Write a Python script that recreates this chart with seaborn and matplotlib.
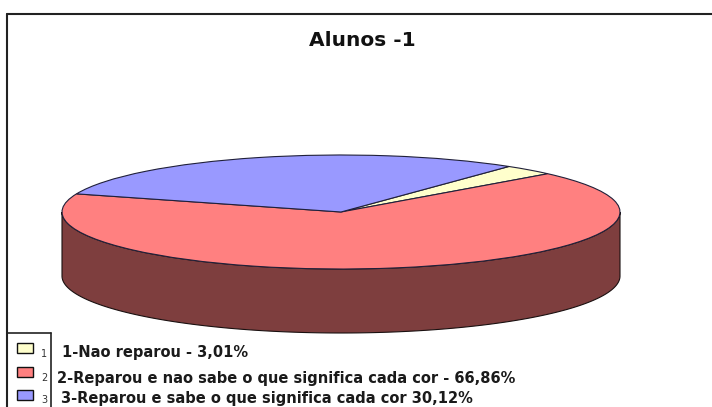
import numpy as np
import matplotlib
matplotlib.use("Agg")
import matplotlib.pyplot as plt
import seaborn as sns
from matplotlib.patches import Polygon, Rectangle
from matplotlib.lines import Line2D

# ---- data ----
title = "Alunos -1"
codes = ["1", "2", "3"]
categories = [
    "1-Nao reparou - 3,01%",
    "2-Reparou e nao sabe o que significa cada cor - 66,86%",
    "3-Reparou e sabe o que significa cada cor 30,12%",
]
values = [3.01, 66.86, 30.12]
top_colors = ["#FFFFCC", "#FF8080", "#9999FF"]
side_colors = ["#80806A", "#7E3E3E", "#4D4D80"]

sns.set_theme(style="white")
plt.rcParams["font.family"] = ["DejaVu Sans"]

W, H = 712, 407
fig = plt.figure(figsize=(W / 100, H / 100), dpi=100)
fig.patch.set_facecolor("white")


def fx(x):
    return x / W


def fy(y):
    return 1 - y / H


# ---- pie geometry (pixels) ----
cx, cy, a, b, depth = 341, 212, 279, 57, 64
ax = fig.add_axes([fx(cx - a), (H - cy - b - depth) / H, 2 * a / W, (2 * b + depth) / H])
d = depth / b

wedges, _ = ax.pie(values, colors=top_colors, startangle=53, counterclock=False,
                   wedgeprops=dict(edgecolor="#20203a", linewidth=0.8))
for w in wedges:
    w.set_zorder(3)
    w.set_clip_on(False)

# side of the 3D pie, computed from the wedge angles
for w, sc in zip(wedges, side_colors):
    t1, t2 = w.theta1, w.theta2
    for k in (-2, -1, 0, 1):
        lo = max(t1, 180 + 360 * k)
        hi = min(t2, 360 + 360 * k)
        if hi > lo:
            t = np.radians(np.linspace(lo, hi, 200))
            top = np.column_stack([np.cos(t), np.sin(t)])
            bot = np.column_stack([np.cos(t[::-1]), np.sin(t[::-1]) - d])
            poly = Polygon(np.vstack([top, bot]), closed=True, facecolor=sc,
                           edgecolor="#1a1010", linewidth=0.8, zorder=2, clip_on=False)
            ax.add_patch(poly)

ax.set_aspect("auto")
ax.set_xlim(-1, 1)
ax.set_ylim(-1 - d, 1)
ax.axis("off")

# ---- title ----
fig.text(fx(362), fy(41), title, ha="center", va="center", fontsize=14.5,
         fontweight="bold", color="#111111")

# ---- outer frame ----
fig.add_artist(Line2D([fx(7), fx(712)], [fy(14), fy(14)], color="#222222", lw=1.5))
fig.add_artist(Line2D([fx(7), fx(7)], [fy(14), fy(407)], color="#222222", lw=1.5))

# ---- legend box ----
fig.add_artist(Line2D([fx(7), fx(50.5)], [fy(333), fy(333)], color="#222222", lw=1.2))
fig.add_artist(Line2D([fx(50.5), fx(50.5)], [fy(333), fy(407)], color="#222222", lw=1.2))

row_y = [348, 372, 395]
text_x = [62, 57, 61]
text_y = [352, 378, 398]
code_y = [354, 378, 400]
for i in range(3):
    fig.add_artist(Rectangle((fx(17), fy(row_y[i] + 5)), 16 / W, 10 / H,
                             facecolor=top_colors[i], edgecolor="#111111", lw=1.0))
    fig.text(fx(44.5), fy(code_y[i]), codes[i], ha="center", va="center",
             fontsize=7, color="#333333")
    fig.text(fx(text_x[i]), fy(text_y[i]), categories[i], ha="left", va="center",
             fontsize=10.5, fontweight="bold", color="#1a1a1a")

fig.savefig("out.png", dpi=100, facecolor="white")
